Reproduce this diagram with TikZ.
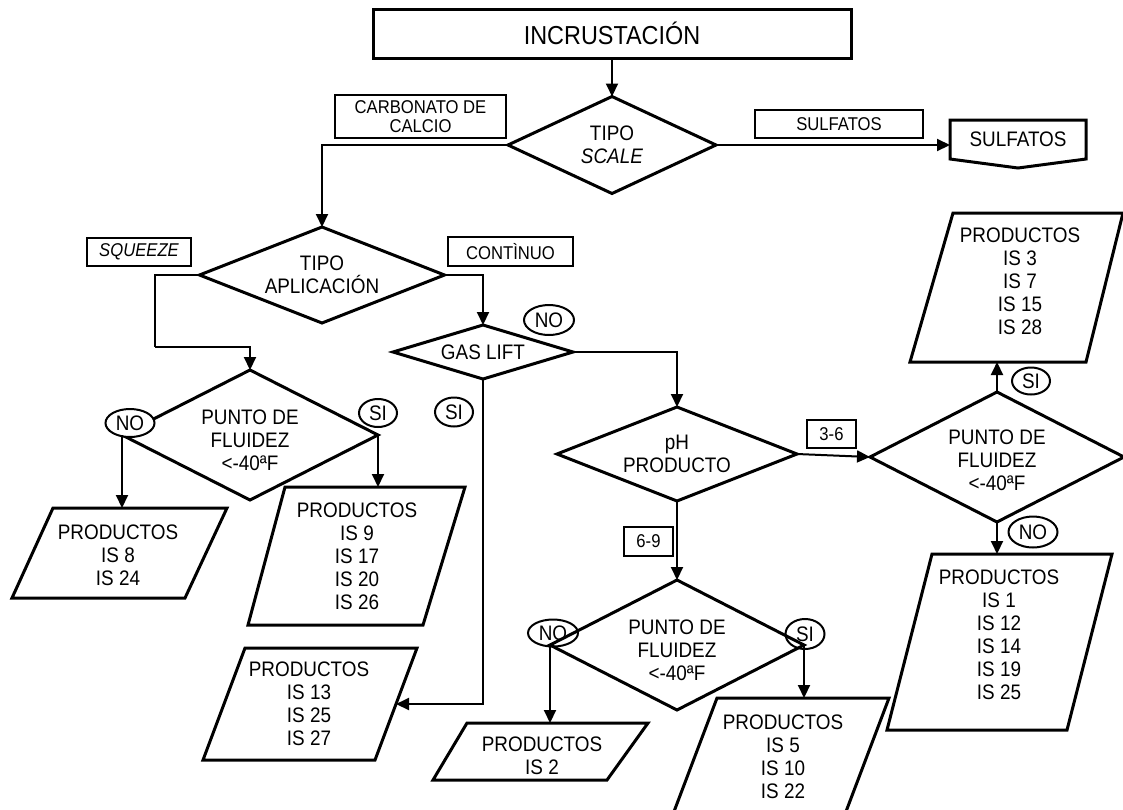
\documentclass[tikz,border=0pt]{standalone}
\usepackage{fontspec}
\setmainfont{Liberation Sans}[FakeStretch=0.9]
\usetikzlibrary{shapes.geometric,arrows.meta}
\begin{document}
\begin{tikzpicture}[x=1pt,y=-1pt,
  every node/.style={inner sep=0pt,outer sep=0pt},
  txt/.style={font=\fontsize{21}{23}\selectfont,align=center},
  small/.style={font=\fontsize{18.5}{19.5}\selectfont,align=center},
  dec/.style 2 args={diamond,draw,line width=3pt,line join=miter,
    minimum width=#1pt,minimum height=#2pt},
  tag/.style 2 args={rectangle,draw,line width=1.8pt,small,
    minimum width=#1pt,minimum height=#2pt},
  oval/.style 2 args={ellipse,draw,line width=2pt,txt,
    minimum width=#1pt,minimum height=#2pt},
  para/.style={line width=3pt,line join=miter},
  wire/.style={line width=2pt},
  conn/.style={line width=2pt,-{Triangle[length=13pt,width=12pt]}}
]
\useasboundingbox (0,0) rectangle (1123,809);

% ---- start and scale type
\node[rectangle,draw,line width=3pt,minimum width=478pt,minimum height=49pt,
  font=\fontsize{26}{28}\selectfont] (inc) at (612,33.5) {INCRUSTACIÓN};
\node[dec={208}{97},label={[txt]center:{TIPO\\\textit{SCALE}}}] (scale) at (612,145) {};
\node[tag={171}{43}] (carb) at (420.5,116.5) {CARBONATO DE\\CALCIO};
\node[tag={168}{28}] (sulfl) at (839,124) {SULFATOS};
\node[txt,minimum width=136pt,minimum height=39pt] (sulf) at (1018,139.5) {SULFATOS};
\draw[para] (sulf.north west) -- (sulf.north east) -- (sulf.south east)
  -- (1018,168) -- (sulf.south west) -- cycle;

% ---- application type
\node[dec={245}{96},label={[txt]center:{TIPO\\APLICACIÓN}}] (aplic) at (322,275) {};
\node[tag={104}{28},font=\fontsize{18.5}{19.5}\selectfont\itshape] (sqz) at (139,252) {SQUEEZE};
\node[tag={125}{29}] (cont) at (510.5,251.5) {CONTÌNUO};
\coordinate (k1) at (155,347);

% ---- gas lift and pH
\node[dec={180}{54},label={[txt]center:{GAS LIFT}}] (gas) at (483,352) {};
\node[oval={50}{30}] (nogas) at (549,320) {NO};
\node[oval={38}{29}] (sigas) at (454,412) {SI};
\node[dec={240}{94},label={[txt]center:{pH\\PRODUCTO}}] (ph) at (677,454) {};
\node[tag={49}{28}] (b36) at (831.5,434) {3-6};
\node[tag={49}{29}] (b69) at (648.5,541.5) {6-9};

% ---- pour point, squeeze branch
\node[dec={256}{130},label={[txt,yshift=-5pt]center:{PUNTO DE\\FLUIDEZ\\<-40ªF}}] (p1) at (250,435) {};
\node[oval={49}{28},fill=white] (no1) at (130,423) {NO};
\node[oval={38}{28}] (si1) at (378,413) {SI};

\draw[para] (53,508) -- (227,508) -- (185,598) -- (12,598) -- cycle;
\node[txt] (t8) at (118,555) {PRODUCTOS\\IS 8\\IS 24};
\coordinate (p8top) at (122,508);

\draw[para] (285,487) -- (465,487) -- (423,625) -- (248,625) -- cycle;
\node[txt] (t9) at (357,556.5) {PRODUCTOS\\IS 9\\IS 17\\IS 20\\IS 26};
\coordinate (p9top) at (378,487);

\draw[para] (245,648) -- (417,648) -- (375,760) -- (203,760) -- cycle;
\node[txt] (t13) at (309,704) {PRODUCTOS\\IS 13\\IS 25\\IS 27};
\coordinate (p13r) at (396,704);

% ---- pour point, pH 6-9 branch
\node[oval={50}{27}] (no2) at (553,633) {NO};
\node[oval={39}{30}] (si2) at (805,634) {SI};
\node[dec={254}{130},label={[txt,yshift=-5pt]center:{PUNTO DE\\FLUIDEZ\\<-40ªF}}] (p2) at (677,645) {};

\draw[para] (467,723) -- (648,723) -- (607,780) -- (433,780) -- cycle;
\node[txt] (t2) at (542,755.5) {PRODUCTOS\\IS 2};
\coordinate (pis2top) at (550,723);

\draw[para] (717,698) -- (889,698) -- (839,830) -- (667,830) -- cycle;
\node[txt] (t5) at (783,757) {PRODUCTOS\\IS 5\\IS 10\\IS 22};
\coordinate (pis5top) at (804,698);

% ---- pour point, pH 3-6 branch
\node[dec={254}{130},label={[txt,yshift=-3pt]center:{PUNTO DE\\FLUIDEZ\\<-40ªF}}] (p3) at (997,457) {};
\node[oval={38}{27}] (si3) at (1031,381) {SI};
\node[oval={49}{31}] (no3) at (1033,532) {NO};

\draw[para] (953,213) -- (1123,213) -- (1086,362) -- (910,362) -- cycle;
\node[txt] (t3) at (1020,281) {PRODUCTOS\\IS 3\\IS 7\\IS 15\\IS 28};
\coordinate (pr3bot) at (997,362);

\draw[para] (932,554) -- (1112,554) -- (1067,730) -- (887,730) -- cycle;
\node[txt] (t1) at (999,635) {PRODUCTOS\\IS 1\\IS 12\\IS 14\\IS 19\\IS 25};
\coordinate (pr1top) at (997,554);

% ---- connectors
\draw[conn] (inc.south) -- (scale.north);
\draw[conn] (scale.west) -| (aplic.north);
\draw[conn] (scale.east) -- (scale.east -| sulf.west);
\draw[wire] (aplic.west) -| (k1);
\draw[conn] (k1) -| (p1.north);
\draw[conn] (aplic.east) -| (gas.north);
\draw[conn] (gas.east) -| (ph.north);
\draw[conn] (gas.south) |- (p13r);
\draw[conn] (ph.east) -- (p3.west);
\draw[conn] (ph.south) -- (p2.north);
\draw[conn] (p1.west) -- (p8top);
\draw[conn] (p1.east) -- (p9top);
\draw[conn] (p2.west) -- (pis2top);
\draw[conn] (p2.east) -- (pis5top);
\draw[conn] (p3.north) -- (pr3bot);
\draw[conn] (p3.south) -- (pr1top);
\end{tikzpicture}
\end{document}
